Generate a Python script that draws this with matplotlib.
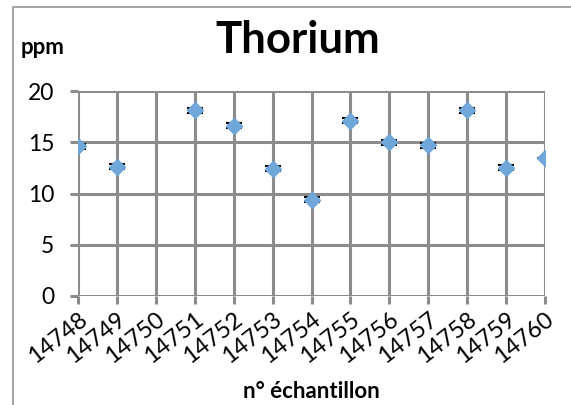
import matplotlib.pyplot as plt
from matplotlib.patches import Rectangle
from matplotlib.transforms import ScaledTranslation

plt.rcParams["font.family"] = ["Lato", "DejaVu Sans"]

# Thorium content per sample (ppm); 14750 has no measurement
samples = ["14748", "14749", "14750", "14751", "14752", "14753", "14754",
           "14755", "14756", "14757", "14758", "14759", "14760"]
thorium = [14.6, 12.6, None, 18.1, 16.6, 12.4, 9.4,
           17.1, 15.0, 14.7, 18.1, 12.5, 13.5]
thorium_err = [0.25, 0.25, None, 0.25, 0.25, 0.25, 0.25,
               0.25, 0.25, 0.25, 0.25, 0.25, 0.0]
y_ticks = [0, 5, 10, 15, 20]

grid_color = "#8c8c8c"
marker_color = "#6fa7d8"

fig = plt.figure(figsize=(5.71, 4.05), dpi=100)

# outer chart frame (runs off the right and bottom edges)
fig.patches.append(Rectangle((13 / 571, -0.05), 1.2, 1 - 7 / 405 + 0.05,
                             transform=fig.transFigure, fill=False,
                             edgecolor="#a6a6a6", linewidth=1.5,
                             clip_on=False))

ax = fig.add_axes([78 / 571, 1 - 296 / 405, (545 - 78) / 571, (296 - 91) / 405])

pos = [i for i, v in enumerate(thorium) if v is not None]
vals = [thorium[i] for i in pos]
errs = [thorium_err[i] for i in pos]

ax.errorbar(pos, vals, yerr=errs, fmt="none", ecolor="black",
            elinewidth=1.0, capsize=5.5, capthick=1.5, zorder=3)
ax.plot(pos, vals, linestyle="none", marker="D", markersize=8,
        color=marker_color, markeredgecolor=marker_color, zorder=4)

ax.set_xlim(0, len(samples) - 1)
ax.set_ylim(0, 20)
ax.set_xticks(range(len(samples)))
ax.set_xticklabels(samples, rotation=38, ha="right", va="top",
                   rotation_mode="anchor", fontsize=17)
ax.set_yticks(y_ticks)
ax.set_yticklabels([str(t) for t in y_ticks], fontsize=16.5)

# nudge the slanted sample labels right of and below their ticks
shift = ScaledTranslation(7 / 100, -9 / 100, fig.dpi_scale_trans)
for lbl in ax.get_xticklabels():
    lbl.set_transform(lbl.get_transform() + shift)

ax.grid(True, color=grid_color, linewidth=2.2)
ax.set_axisbelow(True)
for s in ax.spines.values():
    s.set_visible(False)
ax.tick_params(axis="both", color=grid_color, width=2.2, length=6,
               direction="out")
ax.tick_params(axis="x", pad=3)
ax.tick_params(axis="y", pad=11)

fig.text(298 / 571, 1 - 40 / 405, "Thorium", ha="center", va="center",
         fontsize=31.5, fontweight="bold")
fig.text(21 / 571, 1 - 48 / 405, "ppm", ha="left", va="center",
         fontsize=16, fontweight="bold")
fig.text(311 / 571, 1 - 391 / 405, "n° échantillon", ha="center",
         va="center", fontsize=16, fontweight="bold")

fig.savefig("out.png", dpi=100)
